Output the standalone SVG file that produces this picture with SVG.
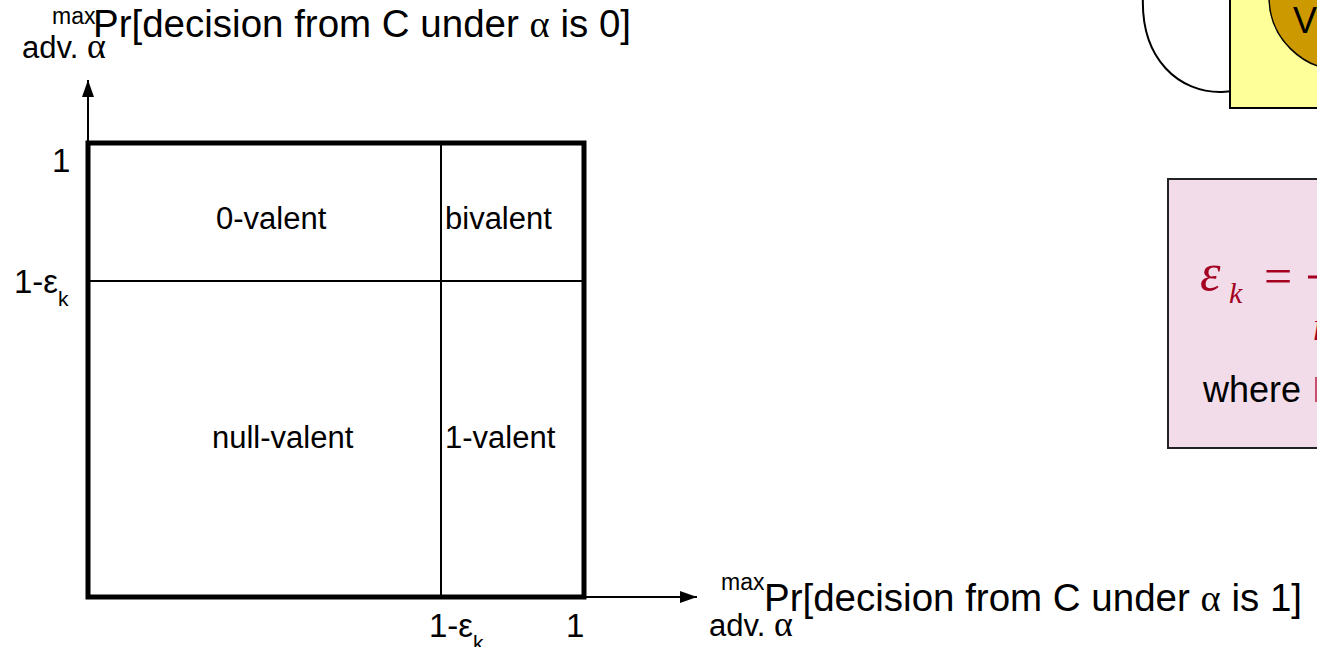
<svg xmlns="http://www.w3.org/2000/svg" width="1317" height="647" viewBox="0 0 1317 647">
<style>
.t{font-family:"Liberation Sans",Arial,sans-serif;fill:#000}
.g{font-family:"Liberation Serif","Times New Roman",serif}
.lbl{font-size:31px}
.tick{font-size:33px}
.big{font-size:38.5px}
.sm{font-size:23px}
.md{font-size:31px}
.thin{stroke:#000;stroke-width:2;fill:none}
.red{fill:#A50021;font-family:"Liberation Serif","Times New Roman",serif;font-style:italic}
</style>
<defs>
<marker id="ah" viewBox="0 0 17 12" refX="17" refY="6" markerWidth="17" markerHeight="12" markerUnits="userSpaceOnUse" orient="auto">
<path d="M0,0 L17,6 L0,12 z" fill="#000"/>
</marker>
</defs>
<rect width="1317" height="647" fill="#fff"/>

<g id="connectors">
<line x1="88" y1="143" x2="88" y2="80" stroke="#000" stroke-width="2" marker-end="url(#ah)"/>
<line x1="584" y1="597" x2="697" y2="597" stroke="#000" stroke-width="2" marker-end="url(#ah)"/>
<path d="M1143,-5 C1140,60 1180,93 1222,92 C1250,91 1272,80 1288,66" class="thin"/>
<polygon points="1297,56 1282,63 1294,72" fill="#000"/>
</g>

<g id="grid">
<line x1="441" y1="143" x2="441" y2="597" class="thin"/>
<line x1="88" y1="281" x2="584" y2="281" class="thin"/>
<rect x="88" y="143" width="496" height="454" fill="none" stroke="#000" stroke-width="5"/>
</g>

<g id="region-0valent"><text class="t lbl" x="216" y="229">0-valent</text></g>
<g id="region-bivalent"><text class="t lbl" x="445" y="229">bivalent</text></g>
<g id="region-nullvalent"><text class="t lbl" x="212" y="448">null-valent</text></g>
<g id="region-1valent"><text class="t lbl" x="445" y="448">1-valent</text></g>

<g id="y-ticks">
<text class="t tick" x="52" y="172">1</text>
<text class="t tick" x="14" y="293">1-ε<tspan font-size="21" dy="13">k</tspan></text>
</g>
<g id="x-ticks">
<text class="t tick" x="429" y="637">1-ε<tspan font-size="21" dy="13">k</tspan></text>
<text class="t tick" x="566" y="637">1</text>
</g>

<g id="y-title">
<text class="t sm" x="52" y="24">max</text>
<text class="t md" x="22" y="58">adv. <tspan class="g" font-size="36">α</tspan></text>
<text class="t big" x="93" y="37">Pr[decision from C under <tspan class="g">α</tspan> is 0]</text>
</g>
<g id="x-title">
<text class="t sm" x="721" y="590">max</text>
<text class="t md" x="709" y="636">adv. <tspan class="g" font-size="36">α</tspan></text>
<text class="t big" x="764" y="611">Pr[decision from C under <tspan class="g">α</tspan> is 1]</text>
</g>

<g id="valency-box">
<rect x="1230" y="-10" width="110" height="118" fill="#FFFF99" stroke="#000" stroke-width="2"/>
<circle cx="1342" cy="-3" r="73" fill="#CC9900" stroke="#000" stroke-width="1.5"/>
<text class="t" font-size="36" x="1293" y="33">V</text>
</g>

<g id="epsilon-box">
<rect x="1168" y="179" width="170" height="269" fill="#F2DCE9" stroke="#222" stroke-width="2"/>
<text class="red" font-size="52" x="1200" y="290">ε</text>
<text class="red" font-size="30" x="1229" y="303">k</text>
<text fill="#A50021" font-family="Liberation Serif,serif" font-size="50" x="1264" y="293">=</text>
<line x1="1308" y1="277" x2="1320" y2="277" stroke="#A50021" stroke-width="3"/>
<text class="red" font-size="40" x="1313" y="340">n</text>
<text class="t" font-size="36" x="1203" y="402">where</text>
<rect x="1315" y="377" width="3" height="25" fill="#C8506E"/>
</g>
</svg>
